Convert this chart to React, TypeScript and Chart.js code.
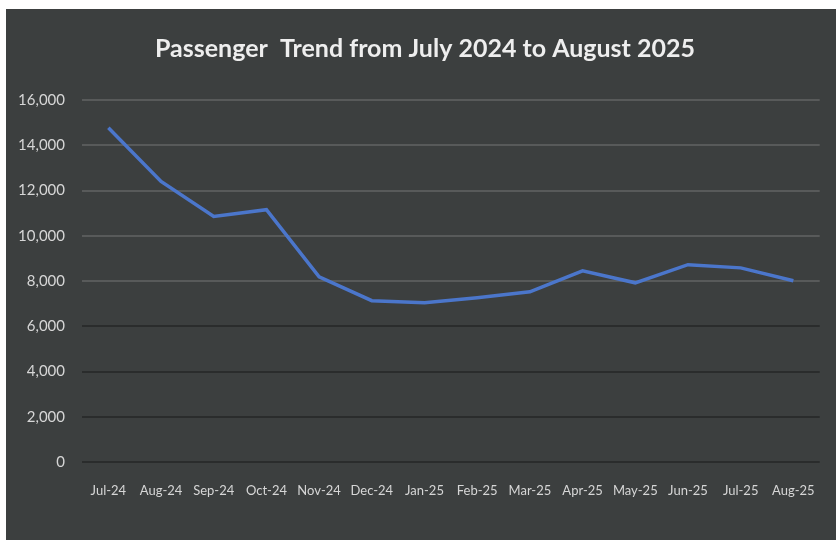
import React, { useEffect, useRef } from "react";
import { Chart, registerables } from "chart.js";

Chart.register(...registerables);

const categories = [
  "Jul-24", "Aug-24", "Sep-24", "Oct-24", "Nov-24", "Dec-24", "Jan-25",
  "Feb-25", "Mar-25", "Apr-25", "May-25", "Jun-25", "Jul-25", "Aug-25",
];
const passengers = [
  14770, 12400, 10850, 11150, 8180, 7130, 7040,
  7260, 7520, 8450, 7920, 8720, 8580, 8010,
];
const yMin = 0;
const yMax = 16000;
const yStep = 2000;
const titleText = "Passenger  Trend from July 2024 to August 2025";

const FONT = "Lato, 'Open Sans', sans-serif";

const titlePlugin = {
  id: "fixedTitle",
  afterDraw(chart: any) {
    const ctx = chart.ctx;
    ctx.save();
    ctx.font = `bold 25px ${FONT}`;
    ctx.fillStyle = "#eeeeee";
    ctx.textAlign = "center";
    ctx.textBaseline = "middle";
    ctx.fillText(titleText, 419, 40);
    ctx.restore();
  },
};

export default function App() {
  const ref = useRef<HTMLCanvasElement | null>(null);

  useEffect(() => {
    document.body.style.margin = "0";
    if (!ref.current) return;
    const chart = new Chart(ref.current, {
      type: "line",
      data: {
        labels: categories,
        datasets: [
          {
            label: "Passengers",
            data: passengers,
            borderColor: "#4b76cb",
            borderWidth: 3.5,
            pointRadius: 0,
            tension: 0,
            fill: false,
          },
        ],
      },
      plugins: [titlePlugin],
      options: {
        animation: false,
        responsive: true,
        maintainAspectRatio: false,
        layout: { padding: { left: 0, right: 10, top: 91, bottom: 0 } },
        plugins: {
          legend: { display: false },
          tooltip: { enabled: false },
          title: { display: false },
        },
        scales: {
          x: {
            offset: true,
            grid: { display: false, drawTicks: false },
            border: { display: false },
            ticks: {
              color: "#d6d6d6",
              font: { family: FONT, size: 13 },
              padding: 21,
              maxRotation: 0,
              autoSkip: false,
            },
            afterFit: (s: any) => {
              s.height = 78;
            },
          },
          y: {
            min: yMin,
            max: yMax,
            grid: {
              drawTicks: false,
              lineWidth: 2,
              color: (ctx: any) =>
                ctx.tick && ctx.tick.value >= 8000 ? "#585a5a" : "#2a2c2c",
            },
            border: { display: false },
            ticks: {
              stepSize: yStep,
              color: "#d6d6d6",
              font: { family: FONT, size: 15 },
              padding: 17,
              callback: (v: any) => Number(v).toLocaleString("en-US"),
            },
            afterFit: (s: any) => {
              s.width = 76;
            },
          },
        },
      },
    });
    return () => chart.destroy();
  }, []);

  return (
    <div
      style={{
        position: "absolute",
        left: 0,
        top: 0,
        width: 836,
        height: 540,
        background: "#ffffff",
      }}
    >
      <div
        style={{
          position: "absolute",
          left: 6,
          top: 9,
          width: 830,
          height: 531,
          background: "#3c3f3f",
        }}
      >
        <canvas ref={ref} />
      </div>
    </div>
  );
}
